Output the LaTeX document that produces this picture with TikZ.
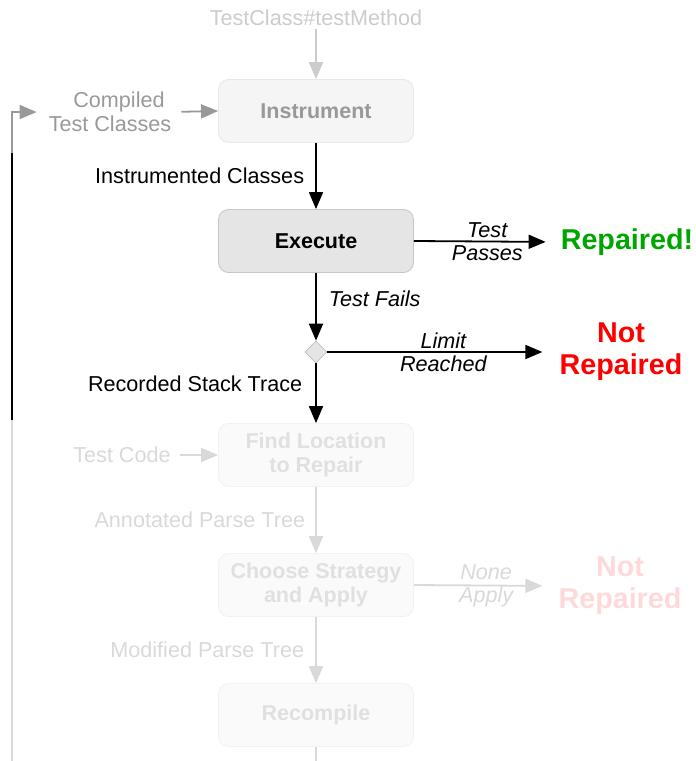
\documentclass[tikz,border=0pt]{standalone}
\usepackage{fontspec}
\setmainfont{Liberation Sans}
\usetikzlibrary{arrows.meta,shapes.geometric}

\definecolor{cTop}{HTML}{CCCCCC}
\definecolor{cMid}{HTML}{999999}
\definecolor{cLow}{HTML}{D9D9D9}
\definecolor{cBoxTxtLow}{HTML}{E0E0E0}
\definecolor{cGreen}{HTML}{00A600}
\definecolor{cRed}{HTML}{FF0000}
\definecolor{cRedLow}{HTML}{FFD9D9}

\tikzset{
  x=1pt, y=-1pt,
  stepbox/.style={rectangle, rounded corners=10pt, minimum width=195pt,
    minimum height=63pt, line width=0.8pt, align=center,
    font=\bfseries\fontsize{21.5}{24}\selectfont},
  boxmid/.style={stepbox, fill=black!4, draw=black!9, text=cMid},
  boxon/.style={stepbox, fill=black!10, draw=black!22, text=black},
  boxlow/.style={stepbox, fill=black!2, draw=black!5, text=cBoxTxtLow},
  lbl/.style={inner sep=0pt, align=center, font=\fontsize{21.6}{24}\selectfont},
  elbl/.style={inner sep=0pt, align=center, font=\itshape\fontsize{21.6}{23}\selectfont},
  outcome/.style={inner sep=0pt, align=center, font=\bfseries\fontsize{28.7}{32}\selectfont},
  arr/.style={-{Triangle[length=17pt,width=14pt]}, line width=1.8pt},
  wire/.style={line width=1.8pt},
}

\begin{document}
\begin{tikzpicture}
\useasboundingbox (0,0) rectangle (696,761);

% process steps
\node[lbl, text=cTop] (tc) at (316,18) {TestClass\#testMethod};
\node[boxmid] (instr) at (316,111) {Instrument};
\node[lbl, text=cMid] (ctc) at (110,112) {\kern18pt Compiled\\Test Classes};
\node[boxon] (exec) at (316,241) {Execute};
\node[diamond, minimum size=22pt, inner sep=0pt, fill=black!10, draw=black!25, line width=0.6pt] (dec) at (316,352) {};
\node[boxlow] (find) at (316,455) {Find Location\\to Repair};
\node[lbl, text=cLow] (tcode) at (122,455) {Test Code};
\node[boxlow] (choose) at (316,585) {Choose Strategy\\and Apply};
\node[boxlow] (recomp) at (316,715) {Recompile};

% outcomes
\node[outcome, text=cGreen] (rep) at (627,242) {Repaired!};
\node[outcome, text=cRed] (nr1) at (621,352) {Not\\Repaired};
\node[outcome, text=cRedLow] (nr2) at (620,586) {Not\\Repaired};

% loop-back line coordinates
\coordinate (loopbot) at (12,761);
\coordinate (loopa) at (12,420);
\coordinate (loopb) at (12,153);
\coordinate (bottom) at (316,761);

% connectors
\draw[arr, cTop, shorten <=3pt] (tc) -- (instr);
\draw[arr, cMid, shorten <=10pt] (ctc.east) -- (instr.west);
\draw[arr, black] (instr) -- node[lbl, left=11pt] {Instrumented Classes} (exec);
\draw[arr, black, shorten >=15pt] (exec.east) -- node[elbl] {Test\\Passes} (rep.west);
\draw[arr, black] (exec) -- node[elbl, pos=0.38, right=12pt] {Test Fails} (dec);
\draw[arr, black, shorten >=17pt] (dec.east) -- node[elbl] {Limit\\Reached} (nr1.west);
\draw[arr, black] (dec) -- node[lbl, pos=0.35, left=13pt] {Recorded Stack Trace} (find);
\draw[arr, cLow, shorten <=9pt] (tcode.east) -- (find.west);
\draw[arr, cLow] (find) -- node[lbl, text=cLow, left=10pt] {Annotated Parse Tree} (choose);
\draw[arr, cLow, shorten >=16pt] (choose.east) -- node[elbl, text=cLow] {None\\Apply} (nr2.west);
\draw[arr, cLow] (choose) -- node[lbl, text=cLow, left=11pt] {Modified Parse Tree} (recomp);
\draw[wire, cLow] (recomp) -- (bottom);

% loop back to the compiled classes
\draw[wire, cLow] (loopbot) -- (loopa);
\draw[wire, black] (loopa) -- (loopb);
\draw[arr, cMid, shorten >=12pt] (loopb) |- (ctc.west);
\end{tikzpicture}
\end{document}
